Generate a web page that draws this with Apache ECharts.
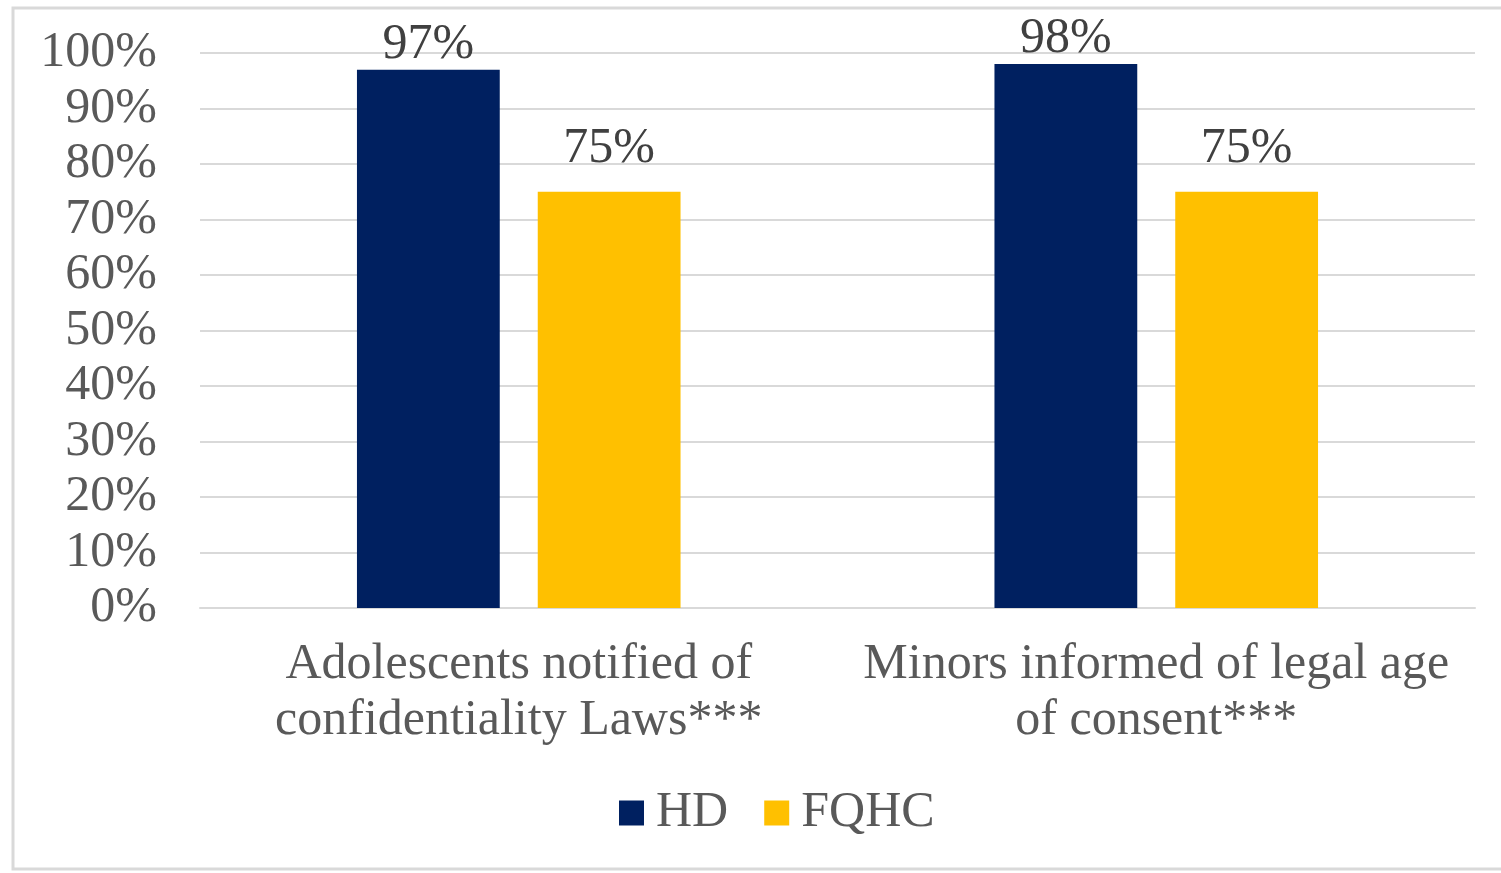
<!DOCTYPE html>
<html>
<head>
<meta charset="utf-8">
<script src="https://cdn.jsdelivr.net/npm/echarts@6/dist/echarts.min.js"></script>
<style>
  html, body { margin: 0; padding: 0; background: #fff; }
  #chart { width: 1501px; height: 873px; }
</style>
</head>
<body>
<div id="chart"></div>
<script>
// chart data
var categories = ['Adolescents notified of\nconfidentiality Laws***', 'Minors informed of legal age\nof consent***'];
var hdValues = [97, 98];
var fqhcValues = [75, 75];
var seriesNames = ['HD', 'FQHC'];

var font = '"Liberation Serif", "DejaVu Serif", serif';
var textColor = '#595959';

var myChart = echarts.init(document.getElementById('chart'));

function barLabel(dist) {
    return {
        show: true,
        position: 'top',
        distance: dist,
        formatter: '{c}%',
        fontFamily: font,
        fontSize: 50,
        color: '#404040'
    };
}

var option = {
    animation: false,
    backgroundColor: '#fff',
    textStyle: { fontFamily: font },
    graphic: [
        {
            type: 'rect',
            shape: { x: 13, y: 8, width: 1500, height: 861 },
            style: { fill: 'none', stroke: '#d9d9d9', lineWidth: 3 }
        }
    ],
    grid: {
        left: 200,
        right: 26,
        top: 53,
        bottom: 265
    },
    legend: {
        data: seriesNames,
        top: 783,
        left: 614,
        itemWidth: 25,
        itemHeight: 25,
        itemGap: 36,
        icon: 'rect',
        textStyle: { fontFamily: font, fontSize: 50, color: textColor, padding: [0, 0, 0, 7] }
    },
    xAxis: {
        type: 'category',
        data: categories,
        axisLine: { lineStyle: { color: '#d9d9d9', width: 2 } },
        axisTick: { show: false },
        axisLabel: {
            interval: 0,
            fontFamily: font,
            fontSize: 50,
            color: textColor,
            lineHeight: 56,
            margin: 29
        }
    },
    yAxis: {
        type: 'value',
        min: 0,
        max: 100,
        interval: 10,
        axisLine: { show: false },
        axisTick: { show: false },
        splitLine: { lineStyle: { color: '#d9d9d9', width: 2 } },
        axisLabel: {
            fontFamily: font,
            fontSize: 50,
            color: textColor,
            margin: 43,
            formatter: '{value}%'
        }
    },
    series: [
        {
            name: seriesNames[0],
            type: 'bar',
            data: hdValues,
            barWidth: '22.4%',
            barGap: '26.6%',
            itemStyle: { color: '#002060' },
            label: barLabel(0)
        },
        {
            name: seriesNames[1],
            type: 'bar',
            data: fqhcValues,
            barWidth: '22.4%',
            itemStyle: { color: '#ffc000' },
            label: barLabel(18)
        }
    ]
};
myChart.setOption(option);
</script>
</body>
</html>
